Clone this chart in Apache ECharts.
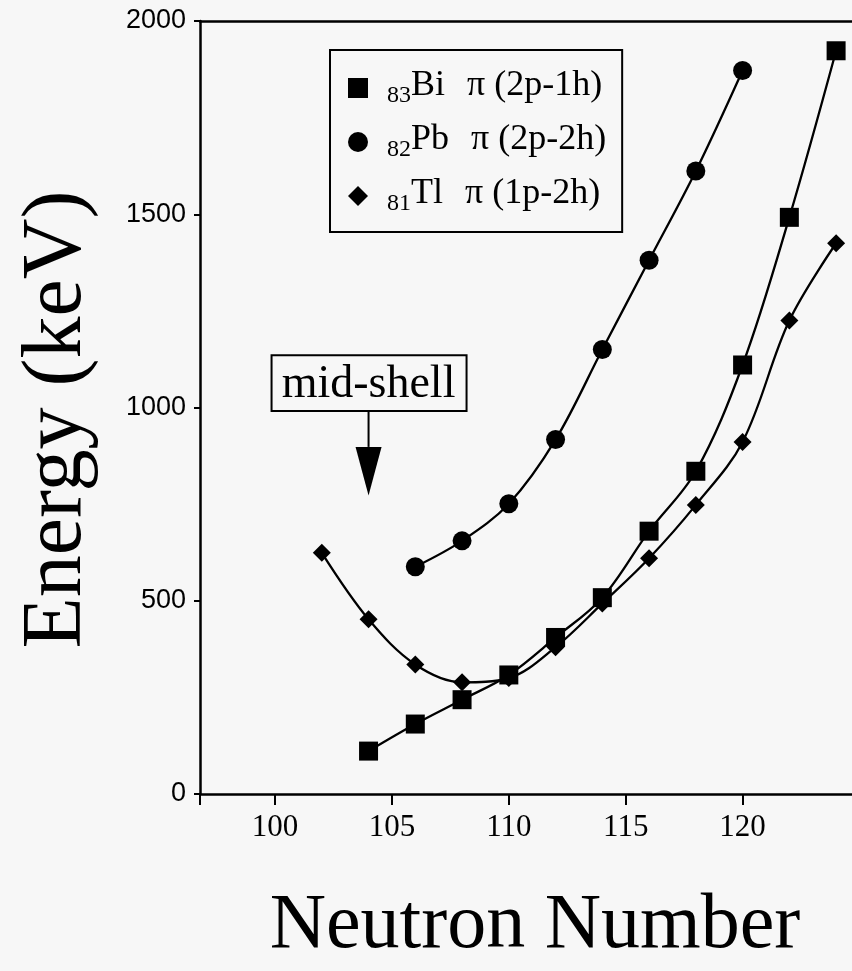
<!DOCTYPE html>
<html><head><meta charset="utf-8">
<script src="https://cdn.jsdelivr.net/npm/echarts@6/dist/echarts.min.js"></script>
<style>html,body{margin:0;padding:0;background:#f7f7f7}#c{width:852px;height:971px}</style>
</head><body><div id="c"></div>
<script>
// Axis setup
const xMin = 96.79, xMax = 124.68;
const yMin = 0, yMax = 2000, yInterval = 500;
const xTickValues = [100, 105, 110, 115, 120];

// Legend text parts
const subscripts = ['83', '82', '81'];
const elements = ['Bi', 'Pb', 'Tl'];
const configs = ['π (2p-1h)', 'π (2p-2h)', 'π (1p-2h)'];
const symbols = ['rect', 'circle', 'diamond'];

// Data (neutron number, energy keV)
const nBi = [104, 106, 108, 110, 112, 114, 116, 118, 120, 122, 124];
const eBi = [111, 181, 244, 308, 405, 508, 680, 835, 1110, 1492, 1923];
const nPb = [106, 108, 110, 112, 114, 116, 118, 120];
const ePb = [588, 655, 751, 917, 1150, 1381, 1612, 1872];
const nTl = [102, 104, 106, 108, 110, 112, 114, 116, 118, 120, 122, 124];
const eTl = [624, 452, 335, 289, 300, 380, 493, 610, 748, 911, 1225, 1425];

// Mid-shell annotation (data coordinates)
const midShellN = 104;
const midShellText = 'mid-shell';
const midShellBoxTop = 1135, midShellBoxBottom = 991, arrowHeadTop = 898, arrowTip = 772;

const names = elements.map((e, i) => e + ' ' + configs[i]);
const seriesData = [
  nBi.map((n, i) => [n, eBi[i]]),
  nPb.map((n, i) => [n, ePb[i]]),
  nTl.map((n, i) => [n, eTl[i]])
];
const symbolSizes = [19, 19, [18, 18]];

const chart = echarts.init(document.getElementById('c'), null, {renderer: 'canvas'});
const serif = 'Liberation Serif';

chart.setOption({
  animation: false,
  backgroundColor: '#f7f7f7',
  grid: {left: 200, right: 0, top: 21, bottom: 174, containLabel: false},
  legend: {
    orient: 'vertical', left: 330, top: 50,
    padding: [12, 16, 16, 18], itemGap: 8, itemWidth: 20, itemHeight: 20,
    borderColor: '#000', borderWidth: 2, backgroundColor: '#f7f7f7',
    selectedMode: false,
    data: names.map((n, i) => ({name: n, icon: symbols[i]})),
    formatter: function (name) {
      const i = names.indexOf(name);
      return '{sub|' + subscripts[i] + '}{big|' + elements[i] + '}{pi|' + configs[i] + '}';
    },
    textStyle: {
      color: '#000',
      rich: {
        sub: {fontFamily: serif, fontSize: 24, lineHeight: 24, padding: [22, 0, 0, 14], verticalAlign: 'bottom', color: '#000'},
        big: {fontFamily: serif, fontSize: 36, lineHeight: 40, verticalAlign: 'top', color: '#000'},
        pi: {fontFamily: serif, fontSize: 36, lineHeight: 40, verticalAlign: 'top', padding: [0, 0, 0, 22], color: '#000'}
      }
    }
  },
  xAxis: [{
    type: 'value', min: xMin, max: xMax, position: 'bottom',
    axisLine: {show: true, lineStyle: {color: '#000', width: 2.5}},
    axisTick: {show: true, customValues: [xMin].concat(xTickValues), length: 11, lineStyle: {color: '#000', width: 2}},
    axisLabel: {customValues: xTickValues, fontFamily: serif, fontSize: 31, color: '#000', margin: 18},
    splitLine: {show: false},
    name: 'Neutron Number', nameLocation: 'middle', nameGap: 94,
    nameTextStyle: {fontFamily: serif, fontSize: 78, color: '#000', padding: [0, 0, 0, 18]}
  }, {
    type: 'value', min: xMin, max: xMax, position: 'top',
    axisLine: {show: true, lineStyle: {color: '#000', width: 2.5}},
    axisTick: {show: false}, axisLabel: {show: false}, splitLine: {show: false}
  }],
  yAxis: {
    type: 'value', min: yMin, max: yMax, interval: yInterval,
    axisLine: {show: true, lineStyle: {color: '#000', width: 2.5}},
    axisTick: {show: true, length: 6, lineStyle: {color: '#000', width: 2}},
    axisLabel: {fontFamily: 'Liberation Sans', fontSize: 27, color: '#000', margin: 14,
      formatter: function (v) { return String(v); }},
    splitLine: {show: false},
    name: 'Energy (keV)', nameLocation: 'middle', nameRotate: 90, nameGap: 100,
    nameTextStyle: {fontFamily: serif, fontSize: 84, color: '#000', padding: [0, 24, 0, 0]}
  },
  series: names.map((n, i) => ({
    type: 'line', name: n, data: seriesData[i], smooth: 0.35,
    symbol: symbols[i], symbolSize: symbolSizes[i], showSymbol: true,
    lineStyle: {color: '#000', width: 2.3}, itemStyle: {color: '#000'},
    z: 3 - i
  }))
});

function placeAnnotation() {
  const x = chart.convertToPixel({xAxisIndex: 0}, midShellN);
  const yTop = chart.convertToPixel({yAxisIndex: 0}, midShellBoxTop);
  const yBot = chart.convertToPixel({yAxisIndex: 0}, midShellBoxBottom);
  const yHead = chart.convertToPixel({yAxisIndex: 0}, arrowHeadTop);
  const yTip = chart.convertToPixel({yAxisIndex: 0}, arrowTip);
  chart.setOption({
    graphic: [
      {type: 'rect', shape: {x: x - 97, y: yTop, width: 195, height: yBot - yTop},
        style: {fill: 'none', stroke: '#000', lineWidth: 2}, z: 10},
      {type: 'text', x: x, y: (yTop + yBot) / 2 + 2,
        style: {text: midShellText, fontFamily: serif, fontSize: 46, fill: '#000', align: 'center', verticalAlign: 'middle'}, z: 10},
      {type: 'line', shape: {x1: x, y1: yBot, x2: x, y2: yHead}, style: {stroke: '#000', lineWidth: 2}, z: 10},
      {type: 'polygon', shape: {points: [[x - 13, yHead], [x + 13, yHead], [x, yTip]]}, style: {fill: '#000'}, z: 10}
    ]
  });
}
placeAnnotation();
</script>
</body></html>
